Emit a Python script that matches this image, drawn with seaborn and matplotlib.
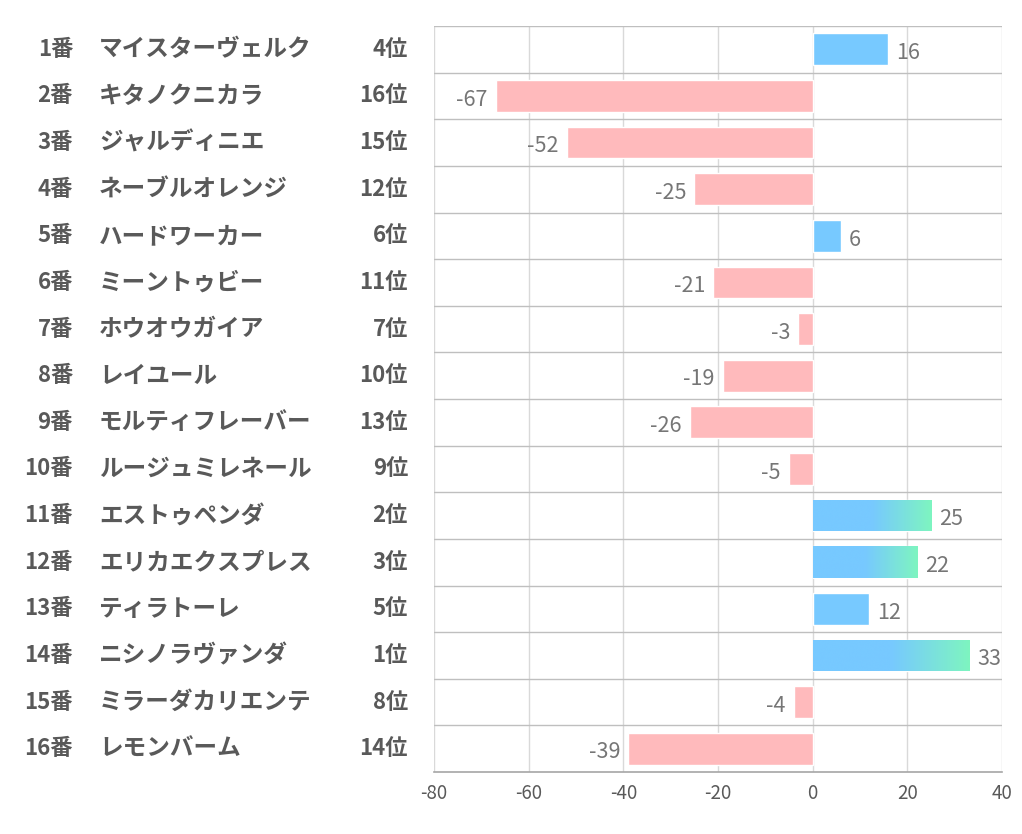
import numpy as np
import pandas as pd
import matplotlib
matplotlib.use("Agg")
import matplotlib.pyplot as plt
import seaborn as sns
from matplotlib.colors import LinearSegmentedColormap
from matplotlib import transforms

# data
numbers = ["1番", "2番", "3番", "4番", "5番", "6番", "7番", "8番",
           "9番", "10番", "11番", "12番", "13番", "14番", "15番", "16番"]
names = ["マイスターヴェルク", "キタノクニカラ", "ジャルディニエ", "ネーブルオレンジ",
         "ハードワーカー", "ミーントゥビー", "ホウオウガイア", "レイユール",
         "モルティフレーバー", "ルージュミレネール", "エストゥペンダ", "エリカエクスプレス",
         "ティラトーレ", "ニシノラヴァンダ", "ミラーダカリエンテ", "レモンバーム"]
ranks = ["4位", "16位", "15位", "12位", "6位", "11位", "7位", "10位",
         "13位", "9位", "2位", "3位", "5位", "1位", "8位", "14位"]
values = [16, -67, -52, -25, 6, -21, -3, -19, -26, -5, 25, 22, 12, 33, -4, -39]

sns.set_theme(style="white")
plt.rcParams['font.family'] = ['Noto Sans CJK JP', 'DejaVu Sans']
plt.rcParams['axes.unicode_minus'] = False

blue = "#77C9FF"
green = "#7EF5C0"
pink = "#FFBABC"

df = pd.DataFrame({"horse": numbers, "value": values})
df["sign"] = np.where(df["value"] >= 0, "pos", "neg")

fig = plt.figure(figsize=(10.22, 8.34), dpi=100)
ax = fig.add_axes([0.4247, 0.0743, 0.5557, 0.8945])

sns.barplot(data=df, x="value", y="horse", hue="sign", palette={"pos": blue, "neg": pink},
            dodge=False, legend=False, width=0.68, saturation=1, ax=ax)

ax.set_xlim(-80, 40)
ax.set_ylim(len(numbers) - 0.5, -0.5)
ax.set_xticks(range(-80, 41, 20))
ax.set_xlabel("")
ax.set_ylabel("")
ax.set_yticks([])
ax.tick_params(axis="x", labelsize=13.5, colors="#595959", length=0, pad=8)

# grid lines
for xv in range(-80, 41, 20):
    ax.axvline(xv, color="#D9D9D9", lw=1, zorder=0)
for i in range(len(numbers)):
    ax.axhline(i - 0.5, color="#BFBFBF", lw=1, zorder=0.5)
for s in ax.spines.values():
    s.set_visible(False)
ax.spines["bottom"].set_visible(True)
ax.spines["bottom"].set_color("#A6A6A6")
ax.spines["bottom"].set_linewidth(1.2)

# gradient on the long positive bars
cmap = LinearSegmentedColormap.from_list("bg", [blue, blue, green])
for p in ax.patches:
    w = p.get_width()
    if w >= 20:
        x0, y0, h = p.get_x(), p.get_y(), p.get_height()
        grad = np.linspace(0, 1, 256).reshape(1, -1)
        im = ax.imshow(grad, cmap=cmap, aspect="auto", extent=[x0, x0 + w, y0 + h, y0],
                       zorder=p.get_zorder() + 0.1, interpolation="bicubic")
        im.set_clip_path(p)

ax.set_xlim(-80, 40)
ax.set_ylim(len(numbers) - 0.5, -0.5)

# value labels
for i, v in enumerate(values):
    if v >= 0:
        ax.text(v + 1.7, i + 0.08, str(v), ha="left", va="center", fontsize=15.5, color="#767676")
    else:
        ax.text(v - 1.7, i + 0.08, str(v), ha="right", va="center", fontsize=15.5, color="#767676")

# left-side table text
trans = transforms.blended_transform_factory(fig.transFigure, ax.transData)
for i in range(len(numbers)):
    ax.text(73 / 1022, i, numbers[i], transform=trans, ha="right", va="center",
            fontsize=16, fontweight="bold", color="#595959")
    ax.text(99 / 1022, i, names[i], transform=trans, ha="left", va="center",
            fontsize=17, fontweight="bold", color="#595959")
    ax.text(408 / 1022, i, ranks[i], transform=trans, ha="right", va="center",
            fontsize=16, fontweight="bold", color="#595959")

fig.savefig("out.png", dpi=100, facecolor="white")
